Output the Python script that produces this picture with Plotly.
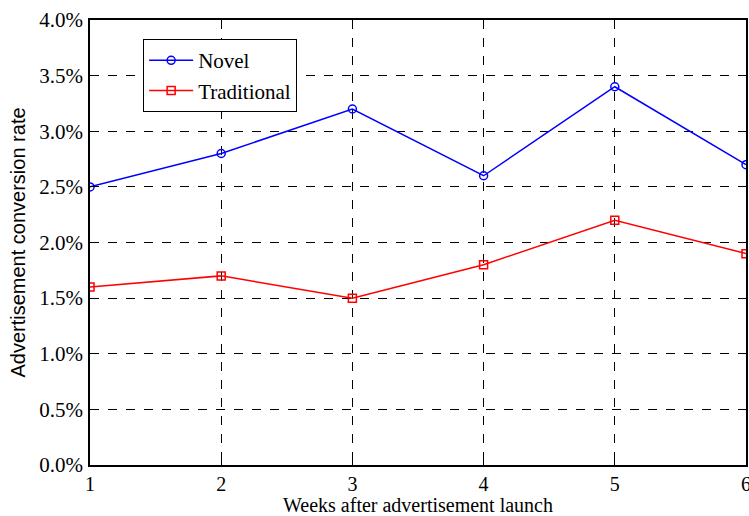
import plotly.graph_objects as go

weeks = [1, 2, 3, 4, 5, 6]
novel = [2.5, 2.8, 3.2, 2.6, 3.4, 2.7]
traditional = [1.6, 1.7, 1.5, 1.8, 2.2, 1.9]
y_ticks = [0.0, 0.5, 1.0, 1.5, 2.0, 2.5, 3.0, 3.5, 4.0]
y_tick_labels = [f"{v:.1f}%" for v in y_ticks]

serif = "Liberation Serif, Times New Roman, serif"
sans = "Liberation Sans, Arial, sans-serif"

fig = go.Figure()
fig.add_trace(go.Scatter(
    x=weeks, y=novel, name="Novel", mode="lines+markers",
    line=dict(color="#0000ff", width=1.5),
    marker=dict(symbol="circle-open", size=8, color="#0000ff", line=dict(width=1.5)),
))
fig.add_trace(go.Scatter(
    x=weeks, y=traditional, name="Traditional", mode="lines+markers",
    line=dict(color="#ff0000", width=1.5),
    marker=dict(symbol="square-open", size=8, color="#ff0000", line=dict(width=1.5)),
))

axis_common = dict(
    showline=True, linecolor="black", linewidth=1.5, mirror=True,
    showgrid=True, gridcolor="black", gridwidth=1, griddash="dash",
    ticks="inside", ticklen=5, tickcolor="black", automargin=False,
    zeroline=False, tickfont=dict(family=serif, size=21, color="black"),
)

fig.update_layout(
    width=749, height=516,
    margin=dict(l=90, r=3, t=20, b=51),
    paper_bgcolor="white", plot_bgcolor="white",
    xaxis=dict(
        range=[1, 6], tickvals=weeks, ticklabelstandoff=0,
        ticklabeloverflow="allow",
        title=dict(text="Weeks after advertisement launch",
                   font=dict(family=serif, size=20, color="black"), standoff=7),
        **{**axis_common, "tickfont": dict(family=serif, size=20, color="black")},
    ),
    yaxis=dict(
        range=[0, 4], tickvals=y_ticks, ticktext=y_tick_labels,
        ticklabelstandoff=1,
        title=dict(text="Advertisement conversion rate",
                   font=dict(family=sans, size=20, color="black"), standoff=8),
        **axis_common,
    ),
    legend=dict(
        x=0.081, y=0.957, xanchor="left", yanchor="top",
        bgcolor="white", bordercolor="black", borderwidth=1,
        font=dict(family=serif, size=21, color="black"),
        tracegroupgap=0, itemwidth=44,
    ),
)

fig.write_html("out.html")
